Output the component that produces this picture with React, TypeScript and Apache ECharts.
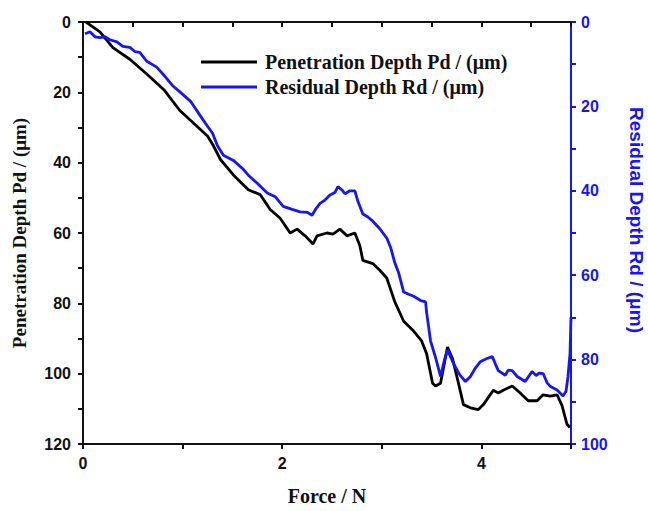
import React, { useEffect, useRef } from "react";
import * as echarts from "echarts";

const pdForce = [0.03, 0.07, 0.17, 0.3, 0.47, 0.64, 0.82, 0.97, 1.13, 1.25, 1.31, 1.38, 1.51, 1.66, 1.78, 1.88, 1.98, 2.08, 2.15, 2.23, 2.31, 2.35, 2.45, 2.51, 2.58, 2.65, 2.73, 2.78, 2.81, 2.91, 2.98, 3.05, 3.13, 3.22, 3.32, 3.4, 3.45, 3.51, 3.54, 3.59, 3.66, 3.71, 3.77, 3.82, 3.89, 3.97, 4.02, 4.12, 4.17, 4.22, 4.31, 4.39, 4.47, 4.56, 4.62, 4.69, 4.76, 4.81, 4.86, 4.89];
const pdValues = [0, 0.8, 2.8, 7.3, 10.6, 14.8, 19.5, 25.1, 29.3, 32.4, 35.2, 39.1, 43.5, 47.7, 49.1, 53.3, 55.8, 60.0, 58.9, 60.8, 63.1, 60.8, 60.0, 60.3, 58.9, 60.8, 60.0, 63.6, 67.8, 68.7, 70.6, 72.8, 79.5, 85.1, 87.9, 90.7, 94.3, 102.7, 103.5, 102.7, 92.4, 95.7, 102.7, 108.8, 109.7, 110.2, 108.8, 104.7, 105.5, 104.7, 103.5, 105.5, 107.7, 107.7, 106.0, 106.4, 106.0, 109.1, 114.4, 115.3];

const rdForce = [0.02, 0.04, 0.07, 0.12, 0.17, 0.22, 0.27, 0.34, 0.4, 0.47, 0.52, 0.57, 0.64, 0.74, 0.82, 0.9, 0.97, 1.08, 1.18, 1.25, 1.3, 1.35, 1.41, 1.51, 1.61, 1.66, 1.75, 1.85, 1.93, 2.01, 2.1, 2.18, 2.25, 2.3, 2.34, 2.38, 2.43, 2.48, 2.53, 2.56, 2.6, 2.63, 2.68, 2.73, 2.76, 2.81, 2.86, 2.91, 2.98, 3.05, 3.09, 3.13, 3.17, 3.22, 3.27, 3.32, 3.39, 3.44, 3.45, 3.49, 3.54, 3.59, 3.63, 3.66, 3.72, 3.78, 3.84, 3.89, 3.94, 3.99, 4.05, 4.11, 4.14, 4.17, 4.24, 4.27, 4.31, 4.36, 4.44, 4.51, 4.55, 4.58, 4.62, 4.66, 4.69, 4.76, 4.82, 4.85, 4.87, 4.89, 4.9];
const rdValues = [2.8, 2.6, 2.3, 3.5, 3.7, 3.5, 4.2, 4.7, 5.8, 6.0, 7.0, 7.2, 9.3, 10.7, 12.8, 15.1, 16.5, 18.8, 22.3, 24.7, 26.3, 29.3, 31.6, 32.8, 34.9, 36.3, 38.2, 40.5, 41.4, 43.7, 44.4, 45.0, 45.1, 45.8, 44.2, 43.0, 42.2, 41.0, 40.4, 39.0, 39.8, 40.7, 40.0, 40.0, 42.5, 45.5, 46.2, 47.2, 49.0, 51.2, 53.5, 57.0, 59.5, 64.0, 64.5, 65.0, 66.0, 66.3, 68.8, 75.6, 79.5, 84.0, 80.0, 77.7, 80.9, 83.5, 85.2, 84.0, 82.0, 80.5, 79.8, 79.3, 81.0, 82.6, 83.7, 82.5, 82.6, 84.0, 85.2, 82.8, 83.8, 83.2, 83.3, 85.5, 86.3, 87.2, 88.6, 87.5, 84.0, 78.6, 70.0];

const seriesNames = ["Penetration Depth Pd / (μm)", "Residual Depth Rd / (μm)"];
const BLUE = "#1414ff";

export default function App() {
  const ref = useRef<HTMLDivElement>(null);
  useEffect(() => {
    if (!ref.current) return;
    const chart = echarts.init(ref.current, null, { renderer: "svg" });
    const sans = "Liberation Sans";
    const serif = "Liberation Serif";
    chart.setOption({
      animation: false,
      backgroundColor: "#ffffff",
      grid: { left: 83, top: 22, right: 77, bottom: 59 },
      legend: {
        left: 196,
        top: 47,
        orient: "vertical",
        itemGap: 5,
        icon: "rect",
        itemWidth: 56,
        itemHeight: 3,
        textStyle: { fontFamily: serif, fontWeight: "bold", fontSize: 20, color: "#111", padding: [0, 0, 0, 3] },
        data: seriesNames,
      },
      graphic: [
        {
          type: "text",
          x: 636,
          y: 220,
          rotation: -Math.PI / 2,
          style: {
            text: seriesNames[1],
            fill: BLUE,
            font: `bold 19px "${sans}"`,
            align: "center",
            verticalAlign: "middle",
          },
        },
      ],
      xAxis: [
        {
          type: "value",
          position: "bottom",
          min: 0,
          max: 4.9,
          interval: 1,
          name: "Force / N",
          nameLocation: "middle",
          nameGap: 42,
          nameTextStyle: { fontFamily: serif, fontWeight: "bold", fontSize: 20, color: "#111" },
          axisLine: { show: true, onZero: false, lineStyle: { color: "#111", width: 2 } },
          axisTick: { show: true, inside: false, length: 5, lineStyle: { color: "#111", width: 2 } },
          axisLabel: {
            fontFamily: sans,
            fontWeight: "bold",
            fontSize: 16,
            color: "#111",
            margin: 11,
            formatter: (v: number) => (Math.abs(v % 2) < 1e-6 ? String(v) : ""),
          },
          splitLine: { show: false },
        },
        {
          type: "value",
          position: "top",
          min: 0,
          max: 4.9,
          interval: 0.5,
          axisLine: { show: true, onZero: false, lineStyle: { color: "#111", width: 2 } },
          axisTick: { show: true, inside: true, length: 5, lineStyle: { color: "#111", width: 2 } },
          axisLabel: { show: false },
          splitLine: { show: false },
        },
      ],
      yAxis: [
        {
          type: "value",
          position: "left",
          inverse: true,
          min: 0,
          max: 120,
          interval: 10,
          name: seriesNames[0],
          nameLocation: "middle",
          nameGap: 54,
          nameRotate: 90,
          nameTextStyle: { fontFamily: serif, fontWeight: "bold", fontSize: 19, color: "#111" },
          axisLine: { show: true, onZero: false, lineStyle: { color: "#111", width: 2 } },
          axisTick: { show: true, inside: false, length: 5, lineStyle: { color: "#111", width: 2 } },
          axisLabel: {
            fontFamily: sans,
            fontWeight: "bold",
            fontSize: 16,
            color: "#111",
            margin: 12,
            formatter: (v: number) => (v % 20 === 0 ? String(v) : ""),
          },
          splitLine: { show: false },
        },
        {
          type: "value",
          position: "right",
          inverse: true,
          min: 0,
          max: 100,
          interval: 10,
          axisLine: { show: true, onZero: false, lineStyle: { color: BLUE, width: 2 } },
          axisTick: { show: true, inside: false, length: 5, lineStyle: { color: BLUE, width: 2 } },
          axisLabel: {
            fontFamily: sans,
            fontWeight: "bold",
            fontSize: 16,
            color: BLUE,
            margin: 10,
            formatter: (v: number) => (v % 20 === 0 ? String(v) : ""),
          },
          splitLine: { show: false },
        },
      ],
      series: [
        {
          name: seriesNames[0],
          type: "line",
          xAxisIndex: 0,
          yAxisIndex: 0,
          symbol: "none",
          clip: true,
          lineStyle: { color: "#000", width: 2.8 },
          itemStyle: { color: "#000" },
          data: pdForce.map((f, i) => [f, pdValues[i]]),
        },
        {
          name: seriesNames[1],
          type: "line",
          xAxisIndex: 0,
          yAxisIndex: 1,
          symbol: "none",
          clip: true,
          lineStyle: { color: BLUE, width: 2.8 },
          itemStyle: { color: BLUE },
          data: rdForce.map((f, i) => [f, rdValues[i]]),
        },
      ],
    });
    return () => chart.dispose();
  }, []);
  return <div ref={ref} style={{ position: "fixed", left: 0, top: 0, width: 648, height: 511 }} />;
}
